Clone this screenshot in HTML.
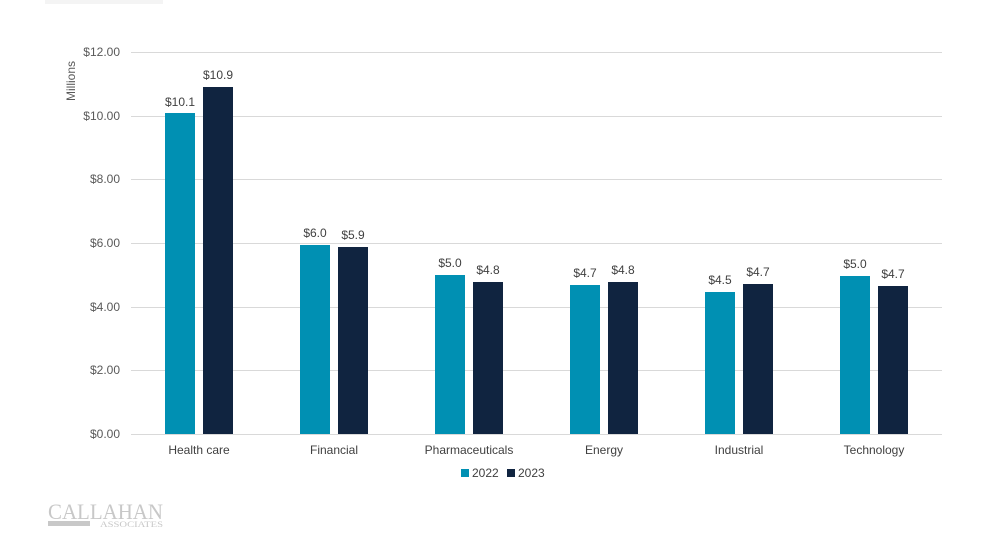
<!DOCTYPE html>
<html><head><meta charset="utf-8"><style>
html,body{margin:0;padding:0;background:#fff;}
svg{display:block;font-family:"Liberation Sans",sans-serif;}
</style></head><body>
<svg width="1000" height="543" viewBox="0 0 1000 543" xmlns="http://www.w3.org/2000/svg">
<g stroke="#d9d9d9" stroke-width="1">
<line x1="131" x2="942" y1="52.5" y2="52.5"/>
<line x1="131" x2="942" y1="116.5" y2="116.5"/>
<line x1="131" x2="942" y1="179.5" y2="179.5"/>
<line x1="131" x2="942" y1="243.5" y2="243.5"/>
<line x1="131" x2="942" y1="307.5" y2="307.5"/>
<line x1="131" x2="942" y1="370.5" y2="370.5"/>
<line x1="131" x2="942" y1="434.5" y2="434.5"/>
</g>
<g font-size="12" fill="#595959" text-anchor="end">
<text x="120" y="56">$12.00</text>
<text x="120" y="120">$10.00</text>
<text x="120" y="183">$8.00</text>
<text x="120" y="247">$6.00</text>
<text x="120" y="311">$4.00</text>
<text x="120" y="374">$2.00</text>
<text x="120" y="438">$0.00</text>
</g>
<text transform="translate(75,81) rotate(-90)" font-size="12" fill="#595959" text-anchor="middle">Millions</text>
<g fill="#0090b3">
<rect x="165" y="113" width="30" height="321"/>
<rect x="300" y="245" width="30" height="189"/>
<rect x="435" y="275" width="30" height="159"/>
<rect x="570" y="285" width="30" height="149"/>
<rect x="705" y="292" width="30" height="142"/>
<rect x="840" y="276" width="30" height="158"/>
</g>
<g fill="#102440">
<rect x="203" y="87" width="30" height="347"/>
<rect x="338" y="247" width="30" height="187"/>
<rect x="473" y="282" width="30" height="152"/>
<rect x="608" y="282" width="30" height="152"/>
<rect x="743" y="284" width="30" height="150"/>
<rect x="878" y="286" width="30" height="148"/>
</g>
<g font-size="12" fill="#404040" text-anchor="middle">
<text x="180" y="106">$10.1</text><text x="218" y="79">$10.9</text>
<text x="315" y="237">$6.0</text><text x="353" y="239">$5.9</text>
<text x="450" y="267">$5.0</text><text x="488" y="274">$4.8</text>
<text x="585" y="277">$4.7</text><text x="623" y="274">$4.8</text>
<text x="720" y="284">$4.5</text><text x="758" y="276">$4.7</text>
<text x="855" y="268">$5.0</text><text x="893" y="278">$4.7</text>
</g>
<g font-size="12" fill="#404040" text-anchor="middle">
<text x="199" y="454">Health care</text>
<text x="334" y="454">Financial</text>
<text x="469" y="454">Pharmaceuticals</text>
<text x="604" y="454">Energy</text>
<text x="739" y="454">Industrial</text>
<text x="874" y="454">Technology</text>
</g>
<rect x="461" y="469" width="8" height="8" fill="#0090b3"/>
<text x="472" y="477" font-size="12" fill="#404040">2022</text>
<rect x="507" y="469" width="8" height="8" fill="#102440"/>
<text x="518" y="477" font-size="12" fill="#404040">2023</text>
<text x="48" y="519" font-family="Liberation Serif,serif" font-size="22" fill="#c8c8c8" textLength="115" lengthAdjust="spacingAndGlyphs">CALLAHAN</text>
<rect x="48" y="521" width="42" height="5" fill="#c8c8c8"/>
<text x="100" y="527" font-family="Liberation Serif,serif" font-size="8" fill="#c8c8c8" textLength="63" lengthAdjust="spacingAndGlyphs">ASSOCIATES</text>
<rect x="45" y="0" width="118" height="4" fill="#f4f4f4"/>
</svg>
</body></html>
